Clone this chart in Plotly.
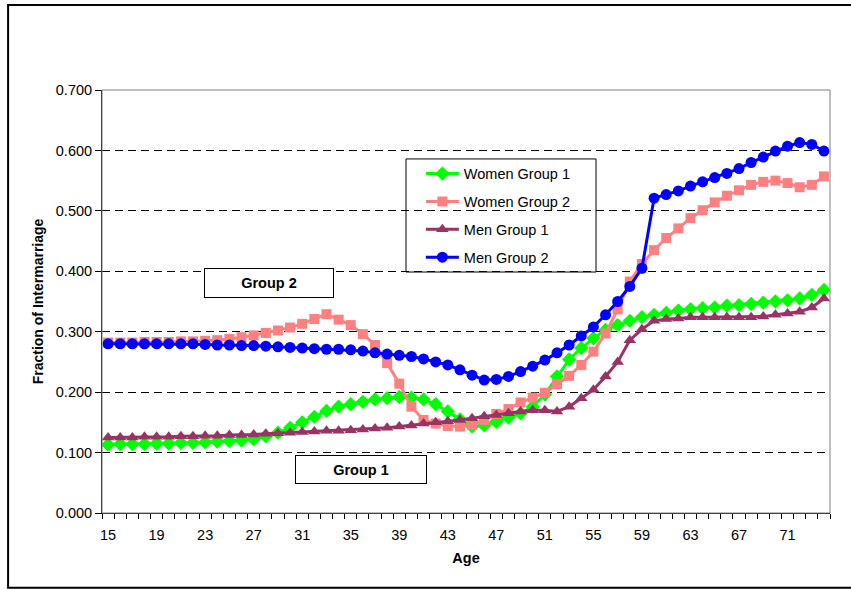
import plotly.graph_objects as go

ages = list(range(15, 75))

women_group1 = [0.113, 0.114, 0.114, 0.114, 0.115, 0.115, 0.116, 0.116, 0.117, 0.118,
                0.119, 0.120, 0.122, 0.127, 0.133, 0.141, 0.150, 0.159, 0.169, 0.176,
                0.180, 0.184, 0.188, 0.190, 0.192, 0.191, 0.188, 0.180, 0.168, 0.155,
                0.143, 0.145, 0.151, 0.158, 0.165, 0.176, 0.196, 0.226, 0.254, 0.273,
                0.289, 0.303, 0.311, 0.318, 0.324, 0.328, 0.331, 0.335, 0.337, 0.339,
                0.340, 0.343, 0.344, 0.346, 0.348, 0.350, 0.352, 0.355, 0.361, 0.369]

women_group2 = [0.282, 0.282, 0.282, 0.283, 0.283, 0.283, 0.284, 0.284, 0.285, 0.286,
                0.288, 0.291, 0.294, 0.298, 0.302, 0.307, 0.313, 0.321, 0.329, 0.320,
                0.311, 0.296, 0.278, 0.248, 0.214, 0.176, 0.154, 0.148, 0.144, 0.143,
                0.146, 0.154, 0.164, 0.172, 0.183, 0.191, 0.199, 0.213, 0.227, 0.245,
                0.267, 0.297, 0.337, 0.383, 0.412, 0.435, 0.455, 0.471, 0.488, 0.501,
                0.514, 0.525, 0.534, 0.543, 0.548, 0.550, 0.546, 0.539, 0.543, 0.557]

men_group1 = [0.125, 0.125, 0.125, 0.126, 0.126, 0.126, 0.127, 0.127, 0.128, 0.128,
              0.129, 0.129, 0.130, 0.131, 0.132, 0.133, 0.134, 0.135, 0.136, 0.136,
              0.137, 0.138, 0.140, 0.141, 0.143, 0.145, 0.148, 0.150, 0.152, 0.154,
              0.157, 0.160, 0.162, 0.165, 0.168, 0.170, 0.170, 0.168, 0.176, 0.190,
              0.204, 0.226, 0.250, 0.286, 0.304, 0.318, 0.321, 0.322, 0.324, 0.324,
              0.324, 0.324, 0.324, 0.324, 0.325, 0.328, 0.330, 0.333, 0.340, 0.355]

men_group2 = [0.280, 0.280, 0.280, 0.280, 0.280, 0.280, 0.280, 0.280, 0.279, 0.278,
              0.278, 0.277, 0.277, 0.276, 0.275, 0.274, 0.273, 0.272, 0.271, 0.271,
              0.270, 0.268, 0.265, 0.263, 0.261, 0.259, 0.255, 0.250, 0.245, 0.237,
              0.228, 0.220, 0.221, 0.226, 0.234, 0.243, 0.253, 0.265, 0.278, 0.293,
              0.308, 0.328, 0.350, 0.375, 0.405, 0.521, 0.527, 0.533, 0.541, 0.548,
              0.555, 0.562, 0.570, 0.580, 0.589, 0.599, 0.607, 0.613, 0.610, 0.599]

series_names = ["Women Group 1", "Women Group 2", "Men Group 1", "Men Group 2"]
series_values = [women_group1, women_group2, men_group1, men_group2]
colors = ["#00FF00", "#FF8080", "#993366", "#0000FF"]
symbols = ["diamond", "square", "triangle-up", "circle"]
sizes = [11, 10, 11, 11]

x_tick_labels = [str(a) for a in range(15, 75, 4)]
y_ticks = [0.0, 0.1, 0.2, 0.3, 0.4, 0.5, 0.6, 0.7]

FONT = "Arial, Liberation Sans, sans-serif"

fig = go.Figure()
for name, vals, col, sym, sz in zip(series_names, series_values, colors, symbols, sizes):
    fig.add_trace(go.Scatter(
        x=ages, y=vals, name=name, mode="lines+markers",
        line=dict(color=col, width=3),
        marker=dict(symbol=sym, size=sz, color=col, line=dict(width=0)),
        legendgroup=name,
    ))

minor_ticks = [a - 0.5 for a in ages] + [ages[-1] + 0.5]

fig.update_layout(
    width=851, height=590,
    margin=dict(l=102, r=21, t=90, b=77, autoexpand=False),
    paper_bgcolor="white", plot_bgcolor="white",
    font=dict(family=FONT, size=14, color="black"),
    showlegend=True,
    legend=dict(
        x=0.438, y=0.840, xanchor="left", yanchor="top",
        bgcolor="rgba(0,0,0,0)", borderwidth=0,
        font=dict(family=FONT, size=14.5, color="black"),
        tracegroupgap=6, itemwidth=33,
    ),
    xaxis=dict(
        range=[ages[0] - 0.5, ages[-1] + 0.5],
        tickmode="array", tickvals=[int(t) for t in x_tick_labels], ticktext=x_tick_labels,
        ticks="", showgrid=False, zeroline=False,
        showline=True, linecolor="black", linewidth=1,
        ticklabelstandoff=9,
        tickfont=dict(size=14.5),
        minor=dict(tickmode="array", tickvals=minor_ticks, ticks="outside", ticklen=5,
                   tickcolor="black", tickwidth=1, showgrid=False),
        title=dict(text="<b>Age</b>", font=dict(size=14.5), standoff=10),
        automargin=False,
    ),
    yaxis=dict(
        range=[0, 0.7], tickmode="array", tickvals=y_ticks,
        tickformat=".3f", ticks="outside", ticklen=6, tickcolor="black",
        showgrid=True, gridcolor="black", gridwidth=1, griddash="8px,5px",
        zeroline=False, showline=True, linecolor="black", linewidth=1,
        tickfont=dict(size=14.5),
        title=dict(text="<b>Fraction of Intermarriage</b>", font=dict(size=14), standoff=8),
        automargin=False,
    ),
    shapes=[
        dict(type="rect", xref="paper", yref="paper", x0=0, x1=1, y0=0, y1=1,
             line=dict(color="#808080", width=1), layer="above"),
        dict(type="rect", xref="paper", yref="paper", x0=0.4176, x1=0.6786, y0=0.5697, y1=0.837,
             line=dict(color="black", width=1), fillcolor="white", layer="below"),
        dict(type="rect", xref="paper", yref="paper", x0=-0.129, x1=1.035, y0=-0.177, y1=1.201,
             line=dict(color="black", width=2), layer="above"),
    ],
    annotations=[
        dict(x=28.27, y=0.3806, xref="x", yref="y", text="<b>Group 2</b>", showarrow=False,
             font=dict(size=14.5, color="black"), bordercolor="black", borderwidth=1,
             width=128, height=28, bgcolor="white", borderpad=0),
        dict(x=35.86, y=0.072, xref="x", yref="y", text="<b>Group 1</b>", showarrow=False,
             font=dict(size=14.5, color="black"), bordercolor="black", borderwidth=1,
             width=130, height=27, bgcolor="white", borderpad=0),
    ],
)

fig.update_xaxes(layer="above traces")
fig.update_yaxes(layer="above traces")

fig.write_html("out.html", config={"displayModeBar": False},
               post_script="document.body.style.margin='0';document.body.style.padding='0';")
